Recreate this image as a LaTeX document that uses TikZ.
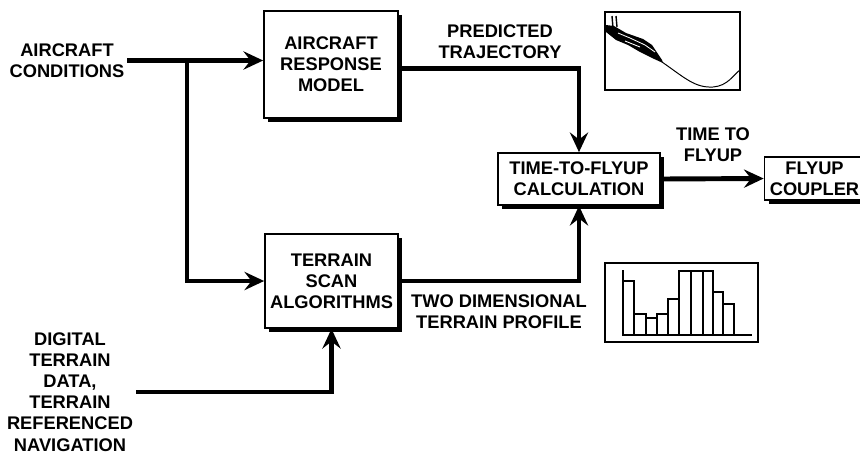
\documentclass[tikz,border=0pt]{standalone}
\usepackage{fontspec}
\setmainfont{Liberation Sans}
\usetikzlibrary{arrows.meta, shadows, positioning}

\begin{document}
\begin{tikzpicture}[x=0.025cm, y=-0.025cm,
    txt/.style={align=center, inner sep=2pt, font=\fontsize{13}{15}\selectfont\bfseries},
    block/.style={txt, draw, line width=1.2pt, fill=white,
        drop shadow={shadow xshift=0.1cm, shadow yshift=-0.1cm, fill=black, opacity=1}},
    flow/.style={line width=3.5pt, -{Stealth[length=14pt, width=13pt, inset=5pt]}},
    inset/.style={line width=0.8pt}]

    % Page
    \fill[white] (0,0) rectangle (860,455);
    \useasboundingbox (0,0) rectangle (860,455);

    % Processing blocks
    \node[block, minimum width=3.35cm, minimum height=2.675cm] (model) at (331,64.5) {AIRCRAFT\\RESPONSE\\MODEL};
    \node[block, minimum width=3.325cm, minimum height=2.35cm] (scan) at (331.5,281) {TERRAIN\\SCAN\\ALGORITHMS};
    \node[block, minimum width=4.05cm, minimum height=1.3cm] (ttf) at (579,179) {TIME-TO-FLYUP\\CALCULATION};
    \node[block, minimum width=2.5cm, minimum height=1.075cm] (coupler) at (814.5,178.5) {FLYUP\\COUPLER};

    % Inputs
    \node[txt] (cond) at (67,60.5) {AIRCRAFT\\CONDITIONS};
    \node[txt] (dtd) at (70,392) {DIGITAL\\TERRAIN\\DATA,\\TERRAIN\\REFERENCED\\NAVIGATION};

    % Signal labels
    \node[txt] (predlbl) at (500,41.5) {PREDICTED\\TRAJECTORY};
    \node[txt] (timelbl) at (713,145) {TIME TO\\FLYUP};
    \node[txt] (proflbl) at (499,312) {TWO DIMENSIONAL\\TERRAIN PROFILE};

    % Connectors
    \coordinate (split) at (187,0 |- cond.east);
    \draw[flow] (cond.east) -- (cond.east -| model.west);
    \draw[flow] (split) |- (scan.west);
    \draw[flow] ([yshift=-0.11cm]model.east) -| (ttf.north);
    \draw[flow] (scan.east) -| (ttf.south);
    \draw[flow] (ttf.east) -- (coupler.west);
    \draw[flow] (dtd.east) -| (scan.south);

    % Trajectory sketch
    \draw[inset] (605,12) rectangle (740,90);
    \fill (606,25) -- (614,26) -- (626,33) -- (643,39) -- (652,45) -- (662,60) -- (663,63)
        -- (652,58) -- (640,52) -- (628,45) -- (616,40) -- (606,32) -- cycle;
    \draw[line width=1pt] (612,16) -- (613,28);
    \draw[line width=1pt] (616,16) -- (617,27);
    \draw[line width=0.6pt, white] (618,33) -- (630,38) -- (645,45) -- (655,52);
    \draw[line width=0.6pt, white] (625,41) -- (640,47);
    \draw[line width=0.7pt] (662,62) .. controls (685,78) and (695,88) .. (713,87)
        .. controls (728,86) and (734,74) .. (740,70);

    % Terrain profile sketch
    \draw[inset] (605,263) rectangle (758,342);
    \draw[line width=1.2pt] (623,270) -- (623,335) -- (752,335);
    \draw[line width=1pt] (623,281) rectangle (634,335)
        (634,314) rectangle (646,335)
        (646,318) rectangle (657,335)
        (657,314) rectangle (668,335)
        (668,299) rectangle (679,335)
        (679,271) rectangle (691,335)
        (691,271) rectangle (703,335)
        (703,271) rectangle (713,335)
        (713,292) rectangle (723,335)
        (723,304) rectangle (734,335);
\end{tikzpicture}
\end{document}
